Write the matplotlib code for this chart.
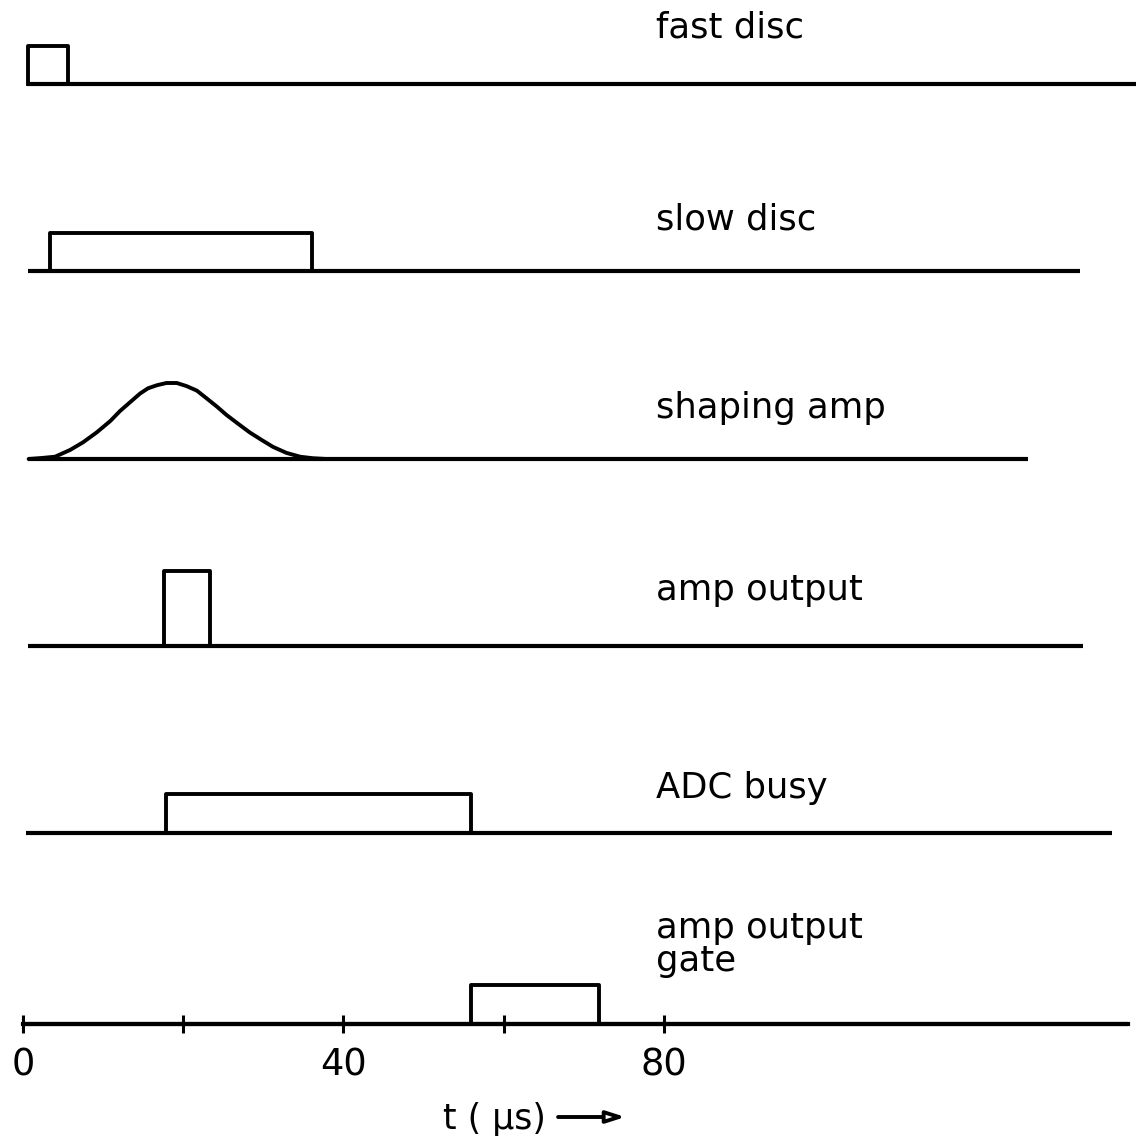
import matplotlib.pyplot as plt

# signal names, one trace per row
signals = ["fast disc", "slow disc", "shaping amp", "amp output", "ADC busy",
           "amp output\ngate"]

# rectangular pulses (start, end) in microseconds; None for the shaped pulse
pulse_start = [0.6, 3.4, None, 17.6, 17.9, 55.9]
pulse_end = [5.6, 36.1, None, 23.3, 55.9, 71.9]

# where each trace begins and ends (microseconds)
trace_start = [0.5, 0.6, 0.6, 0.6, 0.4, 0.0]
trace_end = [139.0, 132.0, 125.5, 132.3, 136.0, 138.0]

shaping_t = [0.7, 2.3, 4.0, 5.9, 7.5, 9.2, 10.9, 12.1, 13.4, 14.6, 15.6,
             16.7, 17.9, 19.2, 20.4, 21.7, 22.9, 24.2, 25.4, 26.9, 28.3,
             29.8, 31.2, 32.9, 34.6, 36.2, 37.9]
shaping_v = [0.0, 0.013, 0.03, 0.12, 0.22, 0.35, 0.50, 0.63, 0.75, 0.86,
             0.93, 0.97, 1.0, 1.0, 0.96, 0.90, 0.80, 0.69, 0.58, 0.46, 0.35,
             0.25, 0.16, 0.08, 0.03, 0.01, 0.0]

tick_pos = [0, 20, 40, 60, 80]
tick_text = ["0", "", "40", "", "80"]

# layout (figure pixels, y downwards)
baseline_y = [84, 271, 459, 646, 833, 1024]
pulse_h = [38, 38, 76, 75, 39, 39]
label_y = [38, 229, 418, 600, 798, 971]
px_per_us = 8.01
x0_px = 23

plt.rcParams["font.family"] = "DejaVu Sans"

fig = plt.figure(figsize=(11.41, 11.46), dpi=100)
ax = fig.add_axes([0, 0, 1, 1])
ax.set_xlim(-x0_px / px_per_us, (1141 - x0_px) / px_per_us)
ax.set_ylim(1146, 0)

lw_base = 3.0
lw_pulse = 2.8

for i, name in enumerate(signals):
    y = baseline_y[i]
    ax.plot([trace_start[i], trace_end[i]], [y, y], color="black",
            lw=lw_base, solid_capstyle="butt")
    if pulse_start[i] is not None:
        a, b = pulse_start[i], pulse_end[i]
        top = y - pulse_h[i]
        ax.plot([a, a, b, b], [y, top, top, y], color="black", lw=lw_pulse,
                solid_joinstyle="round")
    else:
        ax.plot(shaping_t, [y - v * pulse_h[i] for v in shaping_v],
                color="black", lw=lw_pulse, solid_joinstyle="round",
                solid_capstyle="round")
    ax.text(79.0, label_y[i], name, fontsize=25.5, ha="left",
            va="baseline", linespacing=0.95)

# time axis on the last trace
for side in ["top", "left", "right"]:
    ax.spines[side].set_visible(False)
ax.spines["bottom"].set_position(("data", baseline_y[-1]))
ax.spines["bottom"].set_bounds(0, trace_end[-1])
ax.spines["bottom"].set_linewidth(lw_base)
ax.set_xticks(tick_pos)
ax.set_xticklabels(tick_text)
ax.tick_params(axis="x", direction="inout", length=13, width=2.2,
               pad=10, labelsize=26.5)
ax.set_yticks([])

ax.text(52.4, 1129, "t ( μs)", fontsize=25, ha="left", va="baseline")
ax.annotate("", xy=(75.2, 1117), xytext=(66.8, 1117),
            arrowprops=dict(arrowstyle="-|>,head_length=1.1,head_width=0.35",
                            lw=2.8, color="black", fc="white",
                            shrinkA=0, shrinkB=0))

fig.savefig("out.png", dpi=100, facecolor="white")
